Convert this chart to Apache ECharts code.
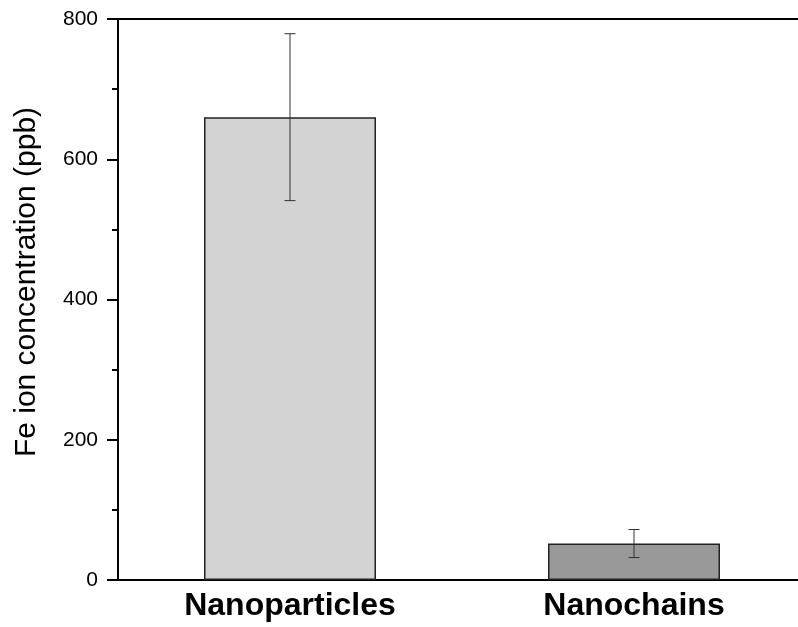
<!DOCTYPE html>
<html>
<head>
<meta charset="utf-8">
<script src="https://cdn.jsdelivr.net/npm/echarts@6/dist/echarts.min.js"></script>
<style>
  html, body { margin: 0; padding: 0; background: #fff; overflow: hidden; }
  /* the plot frame runs past the right edge of the page, so the canvas is a bit wider */
  #chart { width: 806px; height: 627px; }
</style>
</head>
<body>
<div id="chart"></div>
<script>
// Fe ion release: nanoparticles vs nanochains
const categories = ['Nanoparticles', 'Nanochains'];
const meanValues = [660, 52];
const errorValues = [119, 20];
const barColors = ['#d3d3d3', '#999999'];
const yTicks = [0, 200, 400, 600, 800];

const chart = echarts.init(document.getElementById('chart'), null, { renderer: 'canvas' });

const barData = meanValues.map((v, i) => ({
  value: v,
  itemStyle: { color: barColors[i] }
}));
const errData = meanValues.map((v, i) => [i, v - errorValues[i], v + errorValues[i]]);

const option = {
  animation: false,
  backgroundColor: '#ffffff',
  grid: { left: 118, right: 0, top: 19, bottom: 47, containLabel: false },
  xAxis: [
    {
      type: 'category',
      data: categories,
      position: 'bottom',
      axisLine: { show: true, lineStyle: { color: '#000', width: 2 } },
      axisTick: { show: false },
      axisLabel: {
        margin: 10,
        fontFamily: 'Liberation Sans, Arial, sans-serif',
        fontWeight: 'bold',
        fontSize: 32,
        color: '#000'
      }
    },
    {
      type: 'category',
      data: categories,
      position: 'top',
      axisLine: { show: true, lineStyle: { color: '#000', width: 2 } },
      axisTick: { show: false },
      axisLabel: { show: false }
    }
  ],
  yAxis: {
    type: 'value',
    min: yTicks[0],
    max: yTicks[yTicks.length - 1],
    interval: 200,
    axisLine: { show: true, lineStyle: { color: '#000', width: 2 } },
    axisTick: { show: true, inside: false, length: 11, lineStyle: { color: '#000', width: 2 } },
    minorTick: { show: true, splitNumber: 2, length: 6, lineStyle: { color: '#000', width: 2 } },
    splitLine: { show: false },
    axisLabel: {
      margin: 20,
      fontFamily: 'Liberation Sans, Arial, sans-serif',
      fontSize: 21,
      color: '#000'
    }
  },
  graphic: [
    {
      type: 'text',
      x: 27,
      y: 282,
      rotation: Math.PI / 2,
      style: {
        text: 'Fe ion concentration (ppb)',
        fontFamily: 'Liberation Sans, Arial, sans-serif',
        fontSize: 30,
        fill: '#000',
        align: 'center',
        verticalAlign: 'middle'
      }
    }
  ],
  series: [
    {
      type: 'bar',
      data: barData,
      barWidth: '50%',
      itemStyle: { borderColor: '#222', borderWidth: 1.5 }
    },
    {
      type: 'custom',
      data: errData,
      z: 10,
      renderItem: function (params, api) {
        const idx = api.value(0);
        const low = api.coord([idx, api.value(1)]);
        const high = api.coord([idx, api.value(2)]);
        const half = 5.5;
        const style = { stroke: '#333', lineWidth: 1 };
        return {
          type: 'group',
          children: [
            { type: 'line', shape: { x1: high[0], y1: high[1], x2: low[0], y2: low[1] }, style: style },
            { type: 'line', shape: { x1: high[0] - half, y1: high[1], x2: high[0] + half, y2: high[1] }, style: style },
            { type: 'line', shape: { x1: low[0] - half, y1: low[1], x2: low[0] + half, y2: low[1] }, style: style }
          ]
        };
      }
    }
  ]
};

chart.setOption(option);
</script>
</body>
</html>
